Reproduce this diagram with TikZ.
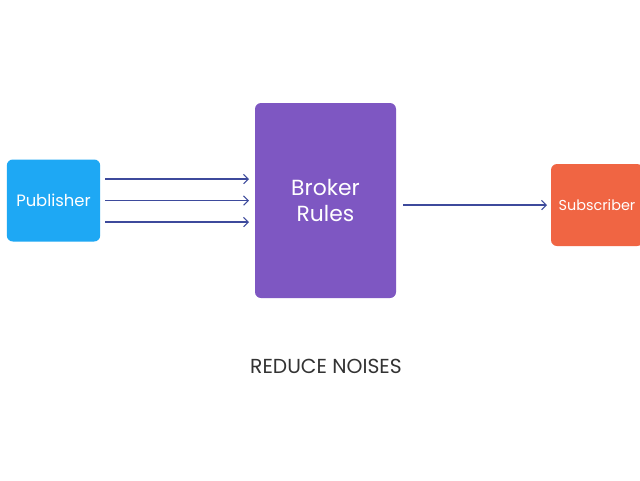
\documentclass[tikz,border=0pt]{standalone}
\usepackage{fontspec}
\setmainfont{Poppins}
\usetikzlibrary{arrows.meta}
\definecolor{pubblue}{HTML}{1EA8F4}
\definecolor{brokerpurple}{HTML}{7E57C2}
\definecolor{suborange}{HTML}{F06543}
\definecolor{arrowblue}{HTML}{3D4A9C}
\definecolor{textgray}{HTML}{333333}
\begin{document}
\begin{tikzpicture}[x=0.75pt,y=-0.75pt,
  box/.style={rounded corners=4.5pt, inner sep=0pt, text=white, align=center},
  flow/.style={draw=arrowblue, line width=0.8pt, -{Straight Barb[length=3.5pt,width=7pt]}}]
\useasboundingbox (0,0) rectangle (640,480);
\fill[white] (0,0) rectangle (640,480);
\begin{scope}
\clip (0,0) rectangle (640,480);
\node[box, fill=pubblue, minimum width=70pt, minimum height=61.5pt, font=\fontsize{12.3pt}{14pt}\selectfont] (pub) at (53.5,200.5) {Publisher};
\node[box, fill=brokerpurple, minimum width=105.75pt, minimum height=146.25pt, font=\fontsize{16.4pt}{20.25pt}\selectfont] (broker) at (325.5,200.5) {Broker\\Rules};
\node[box, fill=suborange, minimum width=69pt, minimum height=61.5pt, font=\fontsize{10.8pt}{14pt}\selectfont] (sub) at (597,205) {Subscriber};
\end{scope}
\coordinate (a1) at (105,179);
\coordinate (a2) at (105,200.5);
\coordinate (a3) at (105,222);
\coordinate (b1) at (249,179);
\coordinate (b2) at (249,200.5);
\coordinate (b3) at (249,222);
\draw[flow] (a1) -- (b1);
\draw[flow] (a2) -- (b2);
\draw[flow] (a3) -- (b3);
\coordinate (c1) at (403,205);
\coordinate (c2) at (547,205);
\draw[flow] (c1) -- (c2);
\node[text=textgray, font=\fontsize{15.2pt}{18pt}\selectfont] (label) at (326,366) {REDUCE NOISES};
\end{tikzpicture}
\end{document}
